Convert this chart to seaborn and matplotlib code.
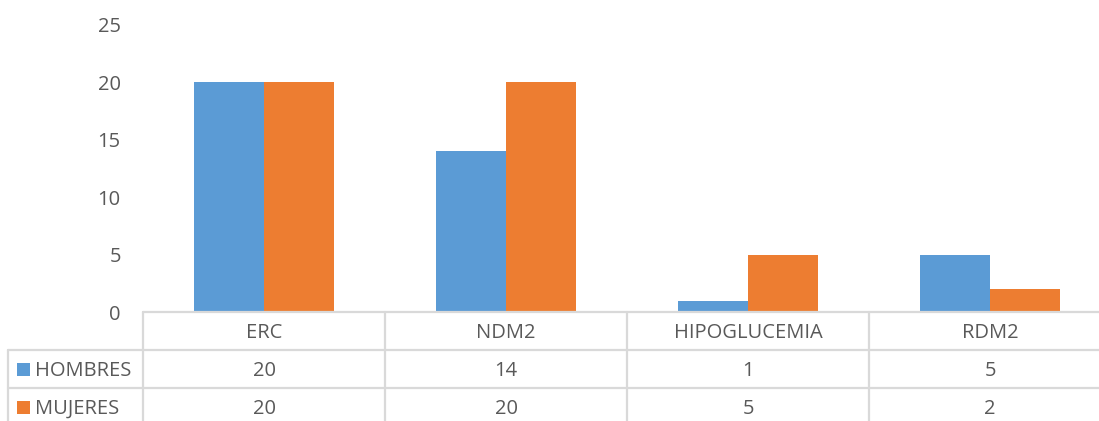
import matplotlib
matplotlib.use("Agg")
import matplotlib.pyplot as plt
from matplotlib.lines import Line2D
from matplotlib.patches import Rectangle
import seaborn as sns
import pandas as pd

categorias = ["ERC", "NDM2", "HIPOGLUCEMIA", "RDM2"]
hombres = [20, 14, 1, 5]
mujeres = [20, 20, 5, 2]
series = ["HOMBRES", "MUJERES"]
yticks = [0, 5, 10, 15, 20, 25]

colores = ["#5B9BD5", "#ED7D31"]
texto = "#595959"
borde = "#D9D9D9"
fs = 14.5

sns.set_theme(style="white")
plt.rcParams["font.family"] = ["Open Sans", "DejaVu Sans"]

df = pd.DataFrame({
    "categoria": categorias * 2,
    "valor": hombres + mujeres,
    "serie": [series[0]] * len(categorias) + [series[1]] * len(categorias),
})

W, H = 1099, 421
fig = plt.figure(figsize=(W / 100, H / 100), dpi=100)

# plot area in pixel coordinates
x0, x1 = 143, 1111
y_top, y_base = 25, 312
ax = fig.add_axes([x0 / W, (H - y_base) / H, (x1 - x0) / W, (y_base - y_top) / H])

sns.barplot(data=df, x="categoria", y="valor", hue="serie", order=categorias,
            hue_order=series, palette=colores, width=0.575, saturation=1,
            linewidth=0, ax=ax, legend=False)

ax.set_xlim(-0.5, len(categorias) - 0.5)
ax.set_ylim(0, 25)
ax.set_yticks(yticks)
ax.set_yticklabels([str(v) for v in yticks], fontsize=fs, color=texto)
ax.tick_params(axis="y", length=0, pad=16)
ax.set_xticks([])
ax.set_xlabel("")
ax.set_ylabel("")
for s in ax.spines.values():
    s.set_visible(False)


def px(x, y):
    return x / W, 1 - y / H


def hline(y, xa, xb):
    (fa, fy), (fb, _) = px(xa, y), px(xb, y)
    fig.add_artist(Line2D([fa, fb], [fy, fy], color=borde, lw=1.6))


def vline(x, ya, yb):
    (fx, fa), (_, fb) = px(x, ya), px(x, yb)
    fig.add_artist(Line2D([fx, fx], [fa, fb], color=borde, lw=1.6))


# data table under the chart
col_w = (x1 - x0) / len(categorias)
row_h = 38
r0 = y_base
txt_dy = 2
hline(r0, x0, x1)
hline(r0 + row_h, 8, x1)
hline(r0 + 2 * row_h, 8, x1)
vline(8, r0 + row_h, H + 5)
for i in range(len(categorias)):
    vline(x0 + i * col_w, r0, H + 5)

for i, cat in enumerate(categorias):
    cx = x0 + (i + 0.5) * col_w
    fx, fy = px(cx, r0 + row_h / 2 + txt_dy)
    fig.text(fx, fy, cat, ha="center", va="center", fontsize=fs, color=texto)
    for j, vals in enumerate([hombres, mujeres]):
        fx, fy = px(cx, r0 + (j + 1.5) * row_h + txt_dy)
        fig.text(fx, fy, str(vals[i]), ha="center", va="center", fontsize=fs, color=texto)

for j, (nombre, col) in enumerate(zip(series, colores)):
    cy = r0 + (j + 1.5) * row_h
    sx, sy = px(17, cy + 7)
    fig.add_artist(Rectangle((sx, sy), 13 / W, 13 / H, facecolor=col, edgecolor="none",
                             transform=fig.transFigure))
    fx, fy = px(35, cy + txt_dy)
    fig.text(fx, fy, nombre, ha="left", va="center", fontsize=fs, color=texto)

fig.savefig("out.png", dpi=100)
